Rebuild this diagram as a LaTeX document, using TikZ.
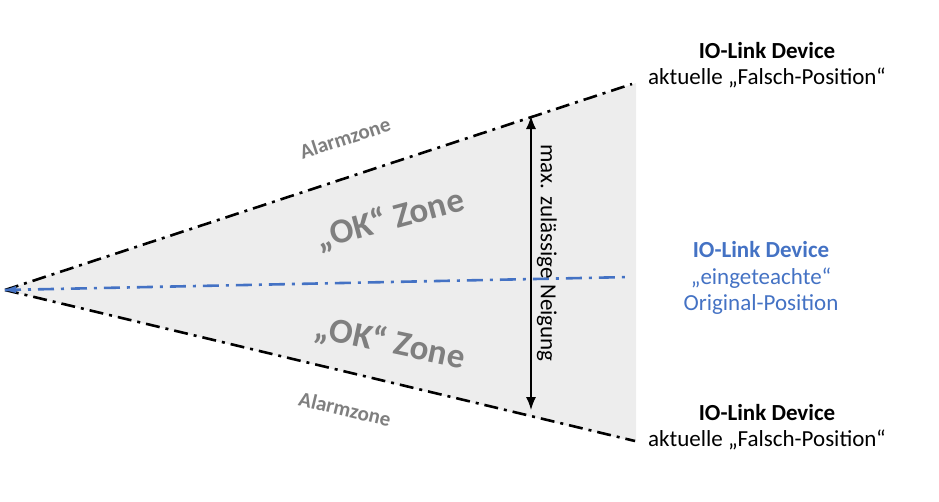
\documentclass[tikz,border=0pt]{standalone}
\usepackage{fontspec}
\setmainfont{Carlito}
\usetikzlibrary{arrows.meta}
\definecolor{ioblue}{HTML}{4472C4}
\definecolor{zonegray}{HTML}{7F7F7F}
\definecolor{wedgefill}{HTML}{EDEDED}
\tikzset{
  edgeline/.style={line width=2.6pt, black, dash pattern=on 14pt off 6pt on 3pt off 6pt},
  blueline/.style={line width=2.6pt, ioblue, dash pattern=on 16pt off 7pt on 3pt off 7pt},
  devlabel/.style={align=center, font=\fontsize{23}{26.5}\selectfont, inner sep=0pt},
  okzone/.style={font=\bfseries\fontsize{35}{38}\selectfont, text=zonegray, inner sep=0pt},
  alarm/.style={font=\bfseries\fontsize{21}{24}\selectfont, text=zonegray, inner sep=0pt},
  measure/.style={line width=1.4pt, {Latex[length=13pt,width=10pt]}-{Latex[length=13pt,width=10pt]}},
}
\begin{document}
\begin{tikzpicture}[x=1pt,y=-1pt]
\useasboundingbox (0,0) rectangle (939,501);
\coordinate (apex) at (5,290);
\coordinate (topR) at (636,83);
\coordinate (botR) at (636,442);
\coordinate (topE) at (632,84);
\coordinate (botE) at (635,441);
\coordinate (blueR) at (630,277);
\coordinate (arrTop) at (531,116);
\coordinate (arrBot) at (531,410);
% wedge
\fill[wedgefill] (apex) -- (topR) -- (botR) -- cycle;
% edges
\draw[edgeline] (apex) -- (topE);
\draw[edgeline] (apex) -- (botE);
\draw[blueline] (apex) -- (blueR);
\fill[ioblue] (5,290) -- (16,286) -- (16,293) -- cycle;
% measure arrow
\draw[measure] (arrTop) -- (arrBot);
\node[rotate=-90, font=\fontsize{23}{26}\selectfont, inner sep=0pt] (neig) at (547,253) {max. zulässige Neigung};
% zone labels
\node[okzone, rotate=15] (okTop) at (390,220) {„OK“ Zone};
\node[okzone, rotate=-12] (okBot) at (390,343) {„OK“ Zone};
\node[alarm, rotate=18] (alTop) at (345,138) {Alarmzone};
\node[alarm, rotate=-13.5] (alBot) at (345,409) {Alarmzone};
% device labels
\node[devlabel] (devTop) at (767,65) {\textbf{IO-Link Device}\\aktuelle „Falsch-Position“};
\node[devlabel, text=ioblue] (devMid) at (761,278) {\textbf{IO-Link Device}\\„eingeteachte“\\Original-Position};
\node[devlabel] (devBot) at (767,427) {\textbf{IO-Link Device}\\aktuelle „Falsch-Position“};
\end{tikzpicture}
\end{document}
